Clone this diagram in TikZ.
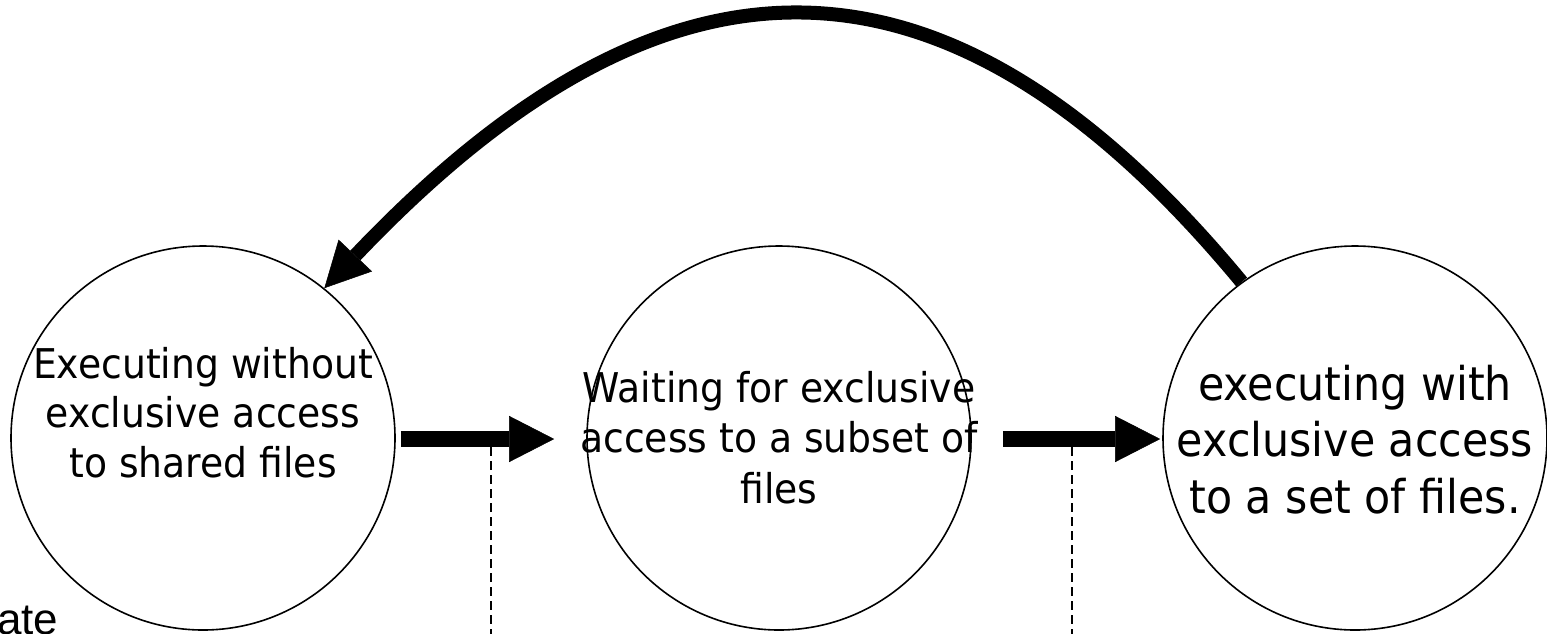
\documentclass[tikz,border=0pt]{standalone}
\usepackage{fontspec}
\setmainfont{DejaVu Sans}[FakeStretch=0.92]
\newfontfamily\cornerfont{Liberation Sans}
\usetikzlibrary{arrows.meta,calc}

\begin{document}
\begin{tikzpicture}[x=1pt,y=-1pt,
  state/.style={circle,draw,line width=1.6pt,minimum size=384pt,inner sep=0pt},
  statetext/.style={align=center,anchor=base,inner sep=0pt},
  bigtip/.style={-{Triangle[length=45pt,width=46pt,line width=0.5pt]}},
  bigarrow/.style={bigtip,line width=16pt},
  backarrow/.style={bigtip,line width=14pt},
  guide/.style={line width=1.8pt,dash pattern=on 9pt off 5pt}]
\useasboundingbox (0,0) rectangle (1547,633);

% the three states
\node[state] (c1) at (203,438) {};
\node[state] (c2) at (779,438) {};
\node[state] (c3) at (1355,438) {};

% state labels, placed by the baseline of their last line
\node[statetext,font=\fontsize{41}{49.5}\selectfont] (t1) at (203,477)
  {Executing without\\exclusive access\\to shared files};
\node[statetext,font=\fontsize{41}{50.5}\selectfont] (t2) at (779,503)
  {Waiting for exclusive\\access to a subset of\\files};
\node[statetext,font=\fontsize{46.5}{56.5}\selectfont] (t3) at (1355,513)
  {executing with\\exclusive access\\to a set of files.};

% transitions
\coordinate (a1s) at ($(c1.east)+(5,1)$);
\coordinate (a1e) at ($(c2.west)+(-32,1)$);
\coordinate (a2s) at ($(c2.east)+(31,1)$);
\coordinate (a2e) at ($(c3.west)+(-2,1)$);
\draw[bigarrow] (a1s) -- (a1e);
\draw[bigarrow] (a2s) -- (a2e);
\draw[backarrow] (c3.126) .. controls (936,-87) and (654,-59) .. (c1.51);

% dashed guides below the transitions
\coordinate (g1t) at (491,447);
\coordinate (g1b) at (491,640);
\coordinate (g2t) at (1072,447);
\coordinate (g2b) at (1072,640);
\draw[guide] (g1t) -- (g1b);
\draw[guide] (g2t) -- (g2b);

\node[anchor=base west,inner sep=0pt,font=\cornerfont\fontsize{44}{52}\selectfont] (lbl) at (-3,634) {ate};
\end{tikzpicture}
\end{document}
